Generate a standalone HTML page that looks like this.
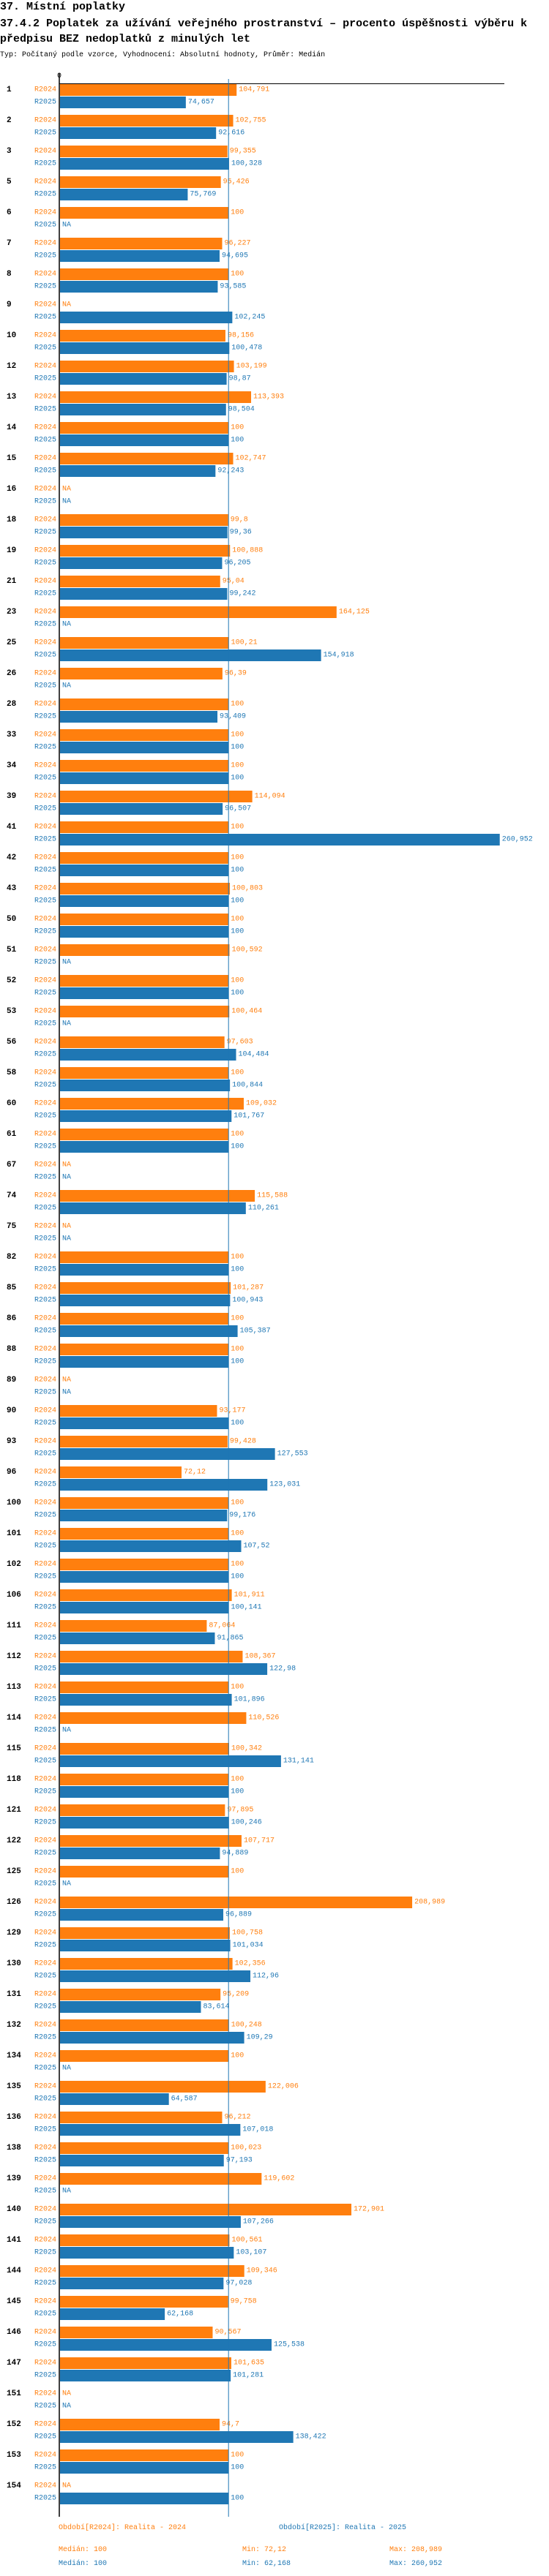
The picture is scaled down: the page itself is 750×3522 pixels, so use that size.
<!DOCTYPE html>
<html><head><meta charset="utf-8">
<style>
html,body{margin:0;padding:0;background:#fff;}
svg{display:block;}
text{font-family:"Liberation Mono",monospace;}
</style></head>
<body>
<svg id="chart" width="750" height="3522" viewBox="0 0 750 3522" xmlns="http://www.w3.org/2000/svg">
<text x="0" y="13" font-size="15" font-weight="bold" fill="#000">37. Místní poplatky</text>
<text x="0" y="36" font-size="15" font-weight="bold" fill="#000">37.4.2 Poplatek za užívání veřejného prostranství – procento úspěšnosti výběru k</text>
<text x="0" y="57" font-size="15" font-weight="bold" fill="#000">předpisu BEZ nedoplatků z minulých let</text>
<text x="0" y="77" font-size="10" fill="#000">Typ: Počítaný podle vzorce, Vyhodnocení: Absolutní hodnoty, Průměr: Medián</text>
<g id="plot"></g>
</svg>
<script>
const categories = ["1","2","3","5","6","7","8","9","10","12","13","14","15","16","18","19","21","23","25","26","28","33","34","39","41","42","43","50","51","52","53","56","58","60","61","67","74","75","82","85","86","88","89","90","93","96","100","101","102","106","111","112","113","114","115","118","121","122","125","126","129","130","131","132","134","135","136","138","139","140","141","144","145","146","147","151","152","153","154"];
const r2024 = [104.791,102.755,99.355,95.426,100,96.227,100,null,98.156,103.199,113.393,100,102.747,null,99.8,100.888,95.04,164.125,100.21,96.39,100,100,100,114.094,100,100,100.803,100,100.592,100,100.464,97.603,100,109.032,100,null,115.588,null,100,101.287,100,100,null,93.177,99.428,72.12,100,100,100,101.911,87.064,108.367,100,110.526,100.342,100,97.895,107.717,100,208.989,100.758,102.356,95.209,100.248,100,122.006,96.212,100.023,119.602,172.901,100.561,109.346,99.758,90.567,101.635,null,94.7,100,null];
const r2025 = [74.657,92.616,100.328,75.769,null,94.695,93.585,102.245,100.478,98.87,98.504,100,92.243,null,99.36,96.205,99.242,null,154.918,null,93.409,100,100,96.507,260.952,100,100,100,null,100,null,104.484,100.844,101.767,100,null,110.261,null,100,100.943,105.387,100,null,100,127.553,123.031,99.176,107.52,100,100.141,91.865,122.98,101.896,null,131.141,100,100.246,94.889,null,96.889,101.034,112.96,83.614,109.29,null,64.587,107.018,97.193,null,107.266,103.107,97.028,62.168,125.538,101.281,null,138.422,100,100];
const seriesNames = ["R2024","R2025"];
const medianValue = 100;
const statsLabels = [["Medián: 100","Min: 72,12","Max: 208,989"],["Medián: 100","Min: 62,168","Max: 260,952"]];
const legendLabels = ["Období[R2024]: Realita - 2024","Období[R2025]: Realita - 2025"];

const NS="http://www.w3.org/2000/svg";
const plot=document.getElementById('plot');
const colors=["#ff7f0e","#1f77b4"];
const X0=81, SCALE=2.302, TOP=115, PITCH=42, BAR_H=16, ROW=17;
function xScale(v){return X0+1+v*SCALE;}
function yGroup(i){return TOP+i*PITCH;}
function mk(tag,attrs){const e=document.createElementNS(NS,tag);for(const k in attrs)e.setAttribute(k,attrs[k]);return e;}
function fmt(v){return String(v).replace('.',',');}
const bottom=yGroup(categories.length-1)+2*ROW+16;

let zl=mk('text',{x:X0-3,y:106,'font-size':10,fill:'#000'});zl.textContent='0';


plot.appendChild(zl);
let tl=mk('line',{x1:X0,y1:114.5,x2:689,y2:114.5,stroke:'#000','stroke-width':1});


plot.appendChild(tl);

categories.forEach((c,i)=>{
  const gy=yGroup(i);
  const g=mk('g',{});
  
  
  const cl=mk('text',{x:9,y:gy+8,'font-size':11,'font-weight':'bold',fill:'#000','dominant-baseline':'central'});
  cl.textContent=c;
  
  
  g.appendChild(cl);
  [r2024,r2025].forEach((arr,s)=>{
    const y=gy+s*ROW, v=arr[i];
    const sl=mk('text',{x:77,y:y+8,'font-size':10,fill:colors[s],'text-anchor':'end','dominant-baseline':'central'});
    sl.textContent=seriesNames[s];
    
    
    g.appendChild(sl);
    if(v===null){
      const na=mk('text',{x:X0+4,y:y+8,'font-size':10,fill:colors[s],'dominant-baseline':'central'});
      na.textContent='NA';
      
      
      g.appendChild(na);
    } else {
      const r=mk('rect',{x:X0+1,y:y,width:xScale(v)-X0-1,height:BAR_H,fill:colors[s]});
      
      
      g.appendChild(r);
      const vl=mk('text',{x:xScale(v)+3,y:y+8,'font-size':10,fill:colors[s],'dominant-baseline':'central'});
      vl.textContent=fmt(v);
      
      
      g.appendChild(vl);
    }
  });
  plot.appendChild(g);
});

let ml=mk('line',{x1:xScale(medianValue),y1:108,x2:xScale(medianValue),y2:bottom,stroke:'#1f77b4','stroke-width':1});


plot.appendChild(ml);
let ax=mk('line',{x1:X0,y1:100,x2:X0,y2:bottom,stroke:'#000','stroke-width':1.5});


plot.appendChild(ax);

const lx=[80,381];
legendLabels.forEach((t,s)=>{
  const e=mk('text',{x:lx[s],y:3458,'font-size':10,fill:colors[s]});
  e.textContent=t;
  
  
  plot.appendChild(e);
});
const sx=[80,331,532], sy=[3488,3507];
statsLabels.forEach((row,s)=>{row.forEach((t,j)=>{
  const e=mk('text',{x:sx[j],y:sy[s],'font-size':10,fill:colors[s]});
  e.textContent=t;
  
  
  plot.appendChild(e);
});});
</script>
</body></html>
